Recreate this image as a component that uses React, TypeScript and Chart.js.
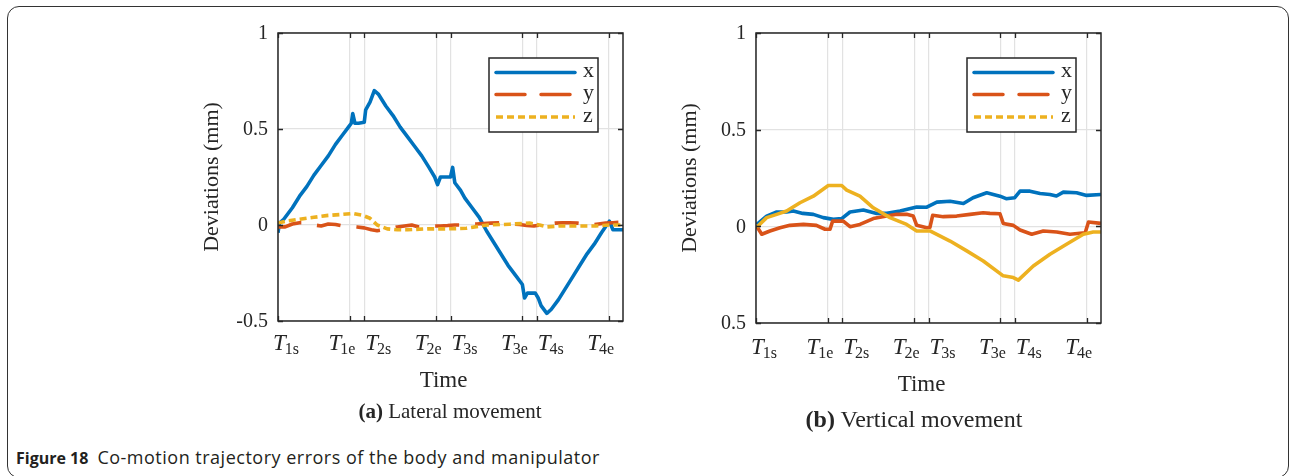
import React, { useEffect, useRef } from "react";
import { Chart, registerables } from "chart.js";

Chart.register(...registerables);

// ---------- data ----------
const X_MAX = 24;
const TIME_TICKS = [0, 5, 6, 11, 12, 17, 18, 23];
const TIME_SUBS = ["1s", "1e", "2s", "2e", "3s", "3e", "4s", "4e"];
const Y_TICKS = [-0.5, 0, 0.5, 1];
const Y_LABELS_A = ["-0.5", "0", "0.5", "1"];
const Y_LABELS_B = ["0.5", "0", "0.5", "1"];
const SERIES_NAMES = ["x", "y", "z"];
const SERIES_COLORS = ["#0072BD", "#D95319", "#EDB120"];

// (a) Lateral movement
const latX = [
  [0, -0.04], [0.1, 0.01], [0.4, 0.03], [1, 0.09], [1.5, 0.15], [2, 0.2], [2.5, 0.26], [3, 0.31],
  [3.5, 0.36], [4, 0.42], [4.5, 0.47], [4.9, 0.51], [5.1, 0.53], [5.2, 0.58], [5.35, 0.53], [5.6, 0.53],
  [6.0, 0.535], [6.1, 0.6], [6.4, 0.64], [6.7, 0.7], [7.0, 0.68], [7.5, 0.62], [8, 0.57], [8.5, 0.51],
  [9, 0.46], [9.5, 0.41], [10, 0.36], [10.5, 0.3], [10.9, 0.25], [11.1, 0.21], [11.3, 0.25], [12.0, 0.25],
  [12.15, 0.3], [12.3, 0.22], [12.7, 0.18], [13, 0.14], [13.5, 0.09], [14, 0.04], [14.5, -0.03], [15, -0.09],
  [15.5, -0.15], [16, -0.21], [16.5, -0.26], [17.0, -0.31], [17.15, -0.38], [17.35, -0.355], [17.9, -0.355],
  [18.1, -0.38], [18.3, -0.42], [18.7, -0.46], [19, -0.44], [19.5, -0.39], [20, -0.33], [20.5, -0.27],
  [21, -0.21], [21.5, -0.15], [22, -0.1], [22.5, -0.04], [23.05, 0.02], [23.3, -0.025], [24, -0.025],
];
const latY = [
  [0, -0.01], [0.5, -0.01], [1, 0.005], [1.5, 0.012], [2, 0.012], [2.5, 0.0], [3, -0.005], [3.5, 0.005],
  [4, 0.003], [4.5, -0.005], [5, -0.005], [5.5, -0.01], [6, -0.015], [6.5, -0.025], [6.9, -0.03], [7.3, -0.025],
  [7.8, -0.02], [8.3, -0.01], [8.8, -0.005], [9.3, 0.0], [9.8, -0.01], [10.3, -0.01], [10.8, -0.005],
  [11.3, -0.005], [11.8, -0.003], [12.3, 0.0], [12.8, 0.0], [13.3, 0.003], [13.8, 0.005], [14.3, 0.008],
  [14.8, 0.01], [15.3, 0.012], [15.8, 0.01], [16.3, 0.005], [16.8, 0.003], [17.3, -0.003], [17.8, -0.005],
  [18.3, 0.0], [18.8, 0.005], [19.3, 0.01], [19.8, 0.012], [20.3, 0.012], [20.8, 0.01], [21.3, 0.005],
  [21.8, 0.0], [22.3, 0.005], [22.8, 0.01], [23.3, 0.012], [24, 0.015],
];
const latZ = [
  [0, 0.01], [0.6, 0.02], [1.5, 0.03], [2.5, 0.04], [3.5, 0.05], [4.4, 0.055], [5.2, 0.06], [5.9, 0.05],
  [6.4, 0.035], [6.9, 0.0], [7.6, -0.02], [8.3, -0.025], [9.0, -0.025], [10.4, -0.02], [11.8, -0.02],
  [13.1, -0.017], [14.1, -0.005], [14.6, 0.0], [16.1, 0.004], [17.5, 0.01], [18.2, 0.0], [18.7, -0.01],
  [19.6, -0.005], [20.7, -0.005], [22.1, -0.005], [23.1, 0.0], [24, 0.0],
];

// (b) Vertical movement
const verX = [
  [0.05, 0.01], [0.74, 0.053], [1.44, 0.074], [2.13, 0.074], [2.6, 0.079], [3.26, 0.067], [3.99, 0.062],
  [4.68, 0.045], [5.38, 0.036], [5.96, 0.04], [6.54, 0.074], [7.47, 0.084], [8.39, 0.067], [9.1, 0.067],
  [10.02, 0.079], [11.18, 0.1], [11.88, 0.099], [12.58, 0.125], [13.5, 0.13], [14.43, 0.118], [15.1, 0.148],
  [16.05, 0.174], [16.97, 0.156], [17.4, 0.143], [18.0, 0.148], [18.37, 0.182], [19.06, 0.182], [19.76, 0.17],
  [20.45, 0.165], [20.9, 0.157], [21.38, 0.177], [22.3, 0.174], [23.0, 0.16], [24, 0.165],
];
const verY = [
  [0.05, 0.0], [0.4, -0.041], [0.97, -0.024], [1.67, -0.007], [2.36, 0.005], [3.3, 0.01], [4.2, 0.005],
  [4.8, -0.015], [5.15, -0.015], [5.33, 0.027], [6.07, 0.027], [6.54, -0.002], [7.23, 0.01], [8.16, 0.04],
  [9.09, 0.053], [9.79, 0.062], [10.48, 0.062], [10.94, 0.053], [11.18, 0.005], [11.88, -0.007], [12.1, -0.005],
  [12.29, 0.057], [13.03, 0.05], [13.96, 0.053], [14.89, 0.062], [15.8, 0.07], [16.27, 0.067], [16.97, 0.065],
  [17.2, 0.015], [17.9, 0.005], [18.37, -0.019], [19.18, -0.041], [19.99, -0.024], [20.92, -0.029],
  [21.84, -0.041], [22.9, -0.033], [23.13, 0.022], [24, 0.015],
];
const verZ = [
  [0.05, -0.005], [0.74, 0.045], [1.44, 0.062], [2.13, 0.079], [3.06, 0.122], [3.99, 0.156], [5.03, 0.211],
  [5.96, 0.211], [6.31, 0.187], [7.23, 0.156], [8.16, 0.096], [9.32, 0.045], [10.48, 0.01], [11.18, -0.024],
  [12.1, -0.024], [13.5, -0.076], [14.66, -0.127], [15.81, -0.179], [17.2, -0.256], [17.9, -0.265],
  [18.25, -0.278], [19.29, -0.205], [20.45, -0.144], [21.6, -0.093], [22.77, -0.041], [23.46, -0.029],
  [24, -0.029],
];

// ---------- drawing ----------
const SERIF = "'Liberation Serif', 'Times New Roman', serif";
const INK = "#262626";
const LEGEND_DASH = [[], [29, 16], [7, 4]];

type PanelCfg = {
  yLabels: string[];
  tickBase: number;
  timeBase: number;
};

function makeDecor(cfg: PanelCfg) {
  return {
    id: "decor",
    afterDatasetsDraw(chart: any) {
      const { ctx, chartArea: a, scales } = chart;
      const xs = scales.x;
      const ys = scales.y;
      ctx.save();
      // axes box
      ctx.strokeStyle = INK;
      ctx.lineWidth = 1.5;
      ctx.setLineDash([]);
      ctx.strokeRect(a.left, a.top, a.right - a.left, a.bottom - a.top);
      // inner tick marks
      ctx.lineWidth = 1.3;
      ctx.beginPath();
      TIME_TICKS.forEach((t) => {
        const px = Math.round(xs.getPixelForValue(t)) + 0.5;
        ctx.moveTo(px, a.bottom);
        ctx.lineTo(px, a.bottom - 5);
        ctx.moveTo(px, a.top);
        ctx.lineTo(px, a.top + 5);
      });
      Y_TICKS.forEach((v) => {
        const py = Math.round(ys.getPixelForValue(v)) + 0.5;
        ctx.moveTo(a.left, py);
        ctx.lineTo(a.left + 5, py);
        ctx.moveTo(a.right, py);
        ctx.lineTo(a.right - 5, py);
      });
      ctx.stroke();

      // y tick labels
      ctx.fillStyle = INK;
      ctx.font = `20px ${SERIF}`;
      ctx.textAlign = "right";
      ctx.textBaseline = "middle";
      Y_TICKS.forEach((v, i) => {
        ctx.fillText(cfg.yLabels[i], a.left - 10, ys.getPixelForValue(v) + 1);
      });

      // x tick labels: italic T with subscript
      ctx.textAlign = "left";
      ctx.textBaseline = "alphabetic";
      TIME_TICKS.forEach((t, i) => {
        const px = xs.getPixelForValue(t);
        const sub = TIME_SUBS[i];
        ctx.font = `italic 23px ${SERIF}`;
        const wT = ctx.measureText("T").width;
        ctx.font = `16px ${SERIF}`;
        const wS = ctx.measureText(sub).width;
        const w = wT + wS - 1;
        const center = px + (i === 0 ? 8 : sub.endsWith("s") ? 14 : -8);
        const x0 = center - w / 2;
        const base = a.bottom + cfg.tickBase;
        ctx.font = `italic 23px ${SERIF}`;
        ctx.fillText("T", x0, base);
        ctx.font = `16px ${SERIF}`;
        ctx.fillText(sub, x0 + wT - 1, base + 4);
      });

      // axis titles
      ctx.font = `23px ${SERIF}`;
      ctx.textAlign = "center";
      ctx.textBaseline = "alphabetic";
      ctx.fillText("Time", (a.left + a.right) / 2 - 7, a.bottom + cfg.timeBase);
      ctx.font = `22px ${SERIF}`;
      ctx.save();
      ctx.translate(a.left - 60, (a.top + a.bottom) / 2);
      ctx.rotate(-Math.PI / 2);
      ctx.fillText("Deviations (mm)", 0, 0);
      ctx.restore();

      // legend
      const bx = a.right - 134;
      const by = a.top + 25;
      const bw = 109;
      const bh = 74;
      ctx.fillStyle = "#ffffff";
      ctx.fillRect(bx, by, bw, bh);
      ctx.strokeStyle = INK;
      ctx.lineWidth = 1.5;
      ctx.strokeRect(bx, by, bw, bh);
      const rows = [14.5, 36.5, 59];
      SERIES_NAMES.forEach((name, i) => {
        const y = by + rows[i];
        ctx.strokeStyle = SERIES_COLORS[i];
        ctx.lineWidth = 3.5;
        ctx.lineCap = i === 2 ? "butt" : "round";
        ctx.setLineDash(LEGEND_DASH[i]);
        ctx.beginPath();
        ctx.moveTo(bx + 7, y);
        ctx.lineTo(bx + 86, y);
        ctx.stroke();
        ctx.setLineDash([]);
        ctx.fillStyle = INK;
        ctx.font = `22px ${SERIF}`;
        ctx.textAlign = "left";
        ctx.textBaseline = "middle";
        ctx.fillText(name, bx + 94, y - 1);
      });
      ctx.restore();
    },
  };
}

type PanelProps = {
  series: number[][][];
  dashes: number[][];
  cfg: PanelCfg;
  left: number;
  top: number;
  padding: { left: number; top: number; right: number; bottom: number };
};

function Panel({ series, dashes, cfg, left, top, padding }: PanelProps) {
  const ref = useRef<HTMLCanvasElement | null>(null);
  useEffect(() => {
    if (!ref.current) return;
    const chart = new Chart(ref.current, {
      type: "line",
      data: {
        datasets: series.map((pts, i) => ({
          label: SERIES_NAMES[i],
          data: pts.map((p) => ({ x: p[0], y: p[1] })),
          borderColor: SERIES_COLORS[i],
          backgroundColor: SERIES_COLORS[i],
          borderWidth: 3.6,
          borderDash: dashes[i],
          borderCapStyle: "butt",
          borderJoinStyle: "round",
          pointRadius: 0,
          tension: 0,
          fill: false,
          order: 3 - i,
        })),
      },
      options: {
        responsive: false,
        maintainAspectRatio: false,
        animation: false,
        layout: { padding },
        plugins: { legend: { display: false }, tooltip: { enabled: false } },
        scales: {
          x: {
            type: "linear",
            min: 0,
            max: X_MAX,
            afterBuildTicks: (s: any) => {
              s.ticks = TIME_TICKS.map((v) => ({ value: v }));
            },
            afterFit: (s: any) => {
              s.height = 0;
            },
            ticks: { display: false },
            grid: { color: "#e2e2e2", lineWidth: 1.2, drawTicks: false },
            border: { display: false },
          },
          y: {
            type: "linear",
            min: -0.5,
            max: 1,
            afterBuildTicks: (s: any) => {
              s.ticks = Y_TICKS.map((v) => ({ value: v }));
            },
            afterFit: (s: any) => {
              s.width = 0;
            },
            ticks: { display: false },
            grid: { color: "#e2e2e2", lineWidth: 1.2, drawTicks: false },
            border: { display: false },
          },
        },
      },
      plugins: [makeDecor(cfg)],
    } as any);
    return () => chart.destroy();
  }, []);
  return (
    <canvas
      ref={ref}
      width={480}
      height={400}
      style={{ position: "absolute", left, top, width: 480, height: 400 }}
    />
  );
}

export default function App() {
  const capStyle: React.CSSProperties = {
    position: "absolute",
    fontFamily: SERIF,
    color: INK,
    whiteSpace: "nowrap",
    textAlign: "center",
    lineHeight: 1,
    transform: "translateX(-50%)",
  };
  return (
    <div
      style={{
        position: "absolute",
        left: 0,
        top: 0,
        width: 1290,
        height: 476,
        overflow: "hidden",
        background: "#ffffff",
      }}
    >
      <div
        style={{
          position: "absolute",
          left: 7,
          top: 6,
          width: 1282,
          height: 472,
          border: "1.5px solid #333",
          borderRadius: 12,
          boxSizing: "border-box",
        }}
      />
      <Panel
        series={[latX, latY, latZ]}
        dashes={[[], [24, 16], [7, 4]]}
        cfg={{ yLabels: Y_LABELS_A, tickBase: 29, timeBase: 66 }}
        left={170}
        top={13}
        padding={{ left: 108, top: 20, right: 27, bottom: 92 }}
      />
      <Panel
        series={[verX, verY, verZ]}
        dashes={[[], [], []]}
        cfg={{ yLabels: Y_LABELS_B, tickBase: 31, timeBase: 68 }}
        left={650}
        top={13}
        padding={{ left: 106, top: 20, right: 29, bottom: 90 }}
      />
      <div style={{ ...capStyle, left: 450, top: 401, fontSize: 21 }}>
        <b>(a)</b> Lateral movement
      </div>
      <div style={{ ...capStyle, left: 914, top: 407, fontSize: 24 }}>
        <b>(b)</b> Vertical movement
      </div>
      <div
        style={{
          position: "absolute",
          left: 16,
          top: 447,
          fontFamily: "'Open Sans', 'Noto Sans', sans-serif",
          fontSize: 16,
          lineHeight: 1.2,
          color: "#231f20",
          whiteSpace: "nowrap",
        }}
      >
        <b>Figure 18</b>
        <span style={{ marginLeft: 9, fontSize: 18, letterSpacing: 0.5 }}>
          Co-motion trajectory errors of the body and manipulator
        </span>
      </div>
    </div>
  );
}
